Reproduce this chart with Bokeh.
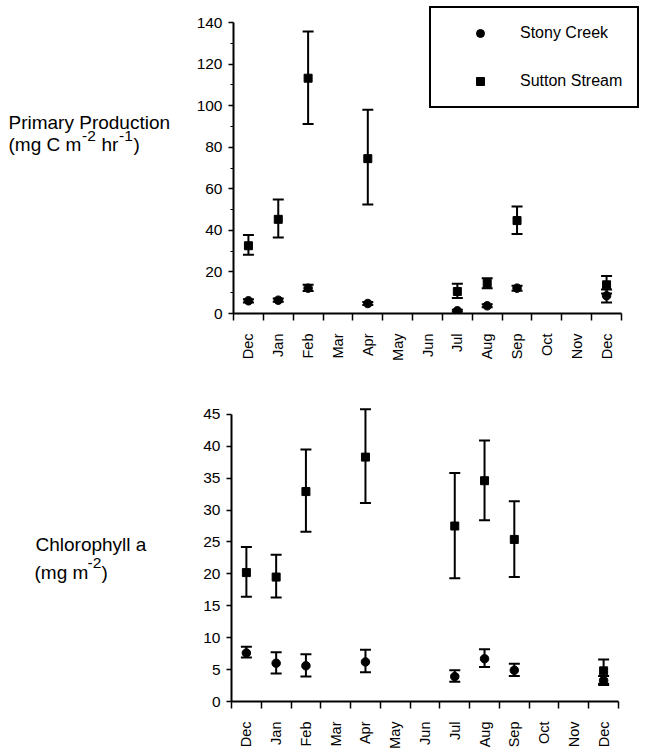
import math
from bokeh.plotting import figure
from bokeh.models import (ColumnDataSource, Whisker, TeeHead, FixedTicker, Label,
                          Legend, LegendItem, Range1d)
from bokeh.layouts import column, row
from bokeh.embed import file_html
from bokeh.resources import INLINE

# ---------------- data ----------------
months = ["Dec", "Jan", "Feb", "Mar", "Apr", "May", "Jun",
          "Jul", "Aug", "Sep", "Oct", "Nov", "Dec"]
sample_slots = [0, 1, 2, 4, 7, 8, 9, 12]   # index into months of each sampling

pp_stony = [6.1, 6.4, 12.2, 4.8, 1.3, 3.7, 12.2, 8.5]
pp_stony_lo = [5.3, 5.6, 10.8, 4.1, 0.8, 3.0, 11.0, 5.3]
pp_stony_hi = [6.9, 7.2, 13.8, 5.5, 1.8, 4.4, 13.3, 11.5]
pp_sutton = [32.6, 45.3, 113.2, 74.5, 10.6, 14.5, 44.7, 13.8]
pp_sutton_lo = [28.3, 36.6, 91.2, 52.4, 7.4, 12.2, 38.2, 9.6]
pp_sutton_hi = [37.8, 54.8, 135.7, 98.0, 14.3, 17.0, 51.5, 18.0]

chl_stony = [7.6, 6.0, 5.6, 6.2, 3.9, 6.7, 4.9, 3.3]
chl_stony_lo = [6.9, 4.4, 3.9, 4.6, 3.1, 5.4, 4.0, 2.6]
chl_stony_hi = [8.6, 7.7, 7.4, 8.1, 4.9, 8.2, 5.9, 4.0]
chl_sutton = [20.2, 19.5, 32.9, 38.3, 27.5, 34.6, 25.4, 4.8]
chl_sutton_lo = [16.4, 16.3, 26.6, 31.1, 19.3, 28.4, 19.5, 2.8]
chl_sutton_hi = [24.2, 23.0, 39.5, 45.8, 35.8, 40.9, 31.4, 6.6]

pp_ticks = [0, 20, 40, 60, 80, 100, 120, 140]
pp_minor = [10, 30, 50, 70, 90, 110, 130]
chl_ticks = [0, 5, 10, 15, 20, 25, 30, 35, 40, 45]

FONT = "Liberation Sans"
LEFT_W = 180
x_centers = [i + 0.5 for i in range(len(months))]
x_bounds = [i for i in range(len(months) + 1)]
x_samples = [s + 0.5 for s in sample_slots]
n_months = len(months)


def make_panel(height, borders, x_end, y_max, y_end, yticks, yminor,
               stony, slo, shi, sutton, tlo, thi, legend=False):
    bl, br, bt, bb = borders
    p = figure(width=650 - LEFT_W, height=height, output_backend="svg",
               toolbar_location=None,
               x_range=Range1d(0, x_end), y_range=Range1d(0, y_end),
               min_border_left=bl, min_border_right=br, min_border_top=bt,
               min_border_bottom=bb)
    p.outline_line_color = None
    p.grid.visible = False
    p.background_fill_color = "white"
    p.border_fill_color = "white"

    xa = p.xaxis[0]
    xa.bounds = (0, n_months)
    xa.ticker = FixedTicker(ticks=x_centers, minor_ticks=x_bounds)
    xa.major_label_overrides = {c: m for c, m in zip(x_centers, months)}
    xa.major_tick_out = 0
    xa.major_tick_in = 0
    xa.major_tick_line_color = None
    xa.minor_tick_out = 7
    xa.minor_tick_in = 0
    xa.minor_tick_line_width = 1.5
    xa.minor_tick_line_color = "black"
    xa.major_label_orientation = math.pi / 2
    xa.major_label_standoff = 13
    xa.major_label_text_font = FONT
    xa.major_label_text_font_size = "14.5px"
    xa.major_label_text_color = "black"
    xa.axis_line_width = 2
    xa.axis_line_color = "black"

    ya = p.yaxis[0]
    ya.bounds = (0, y_max)
    ya.ticker = FixedTicker(ticks=yticks, minor_ticks=yminor)
    ya.major_tick_out = 5
    ya.major_tick_in = 0
    ya.major_tick_line_width = 1.5
    ya.major_tick_line_color = "black"
    ya.minor_tick_out = 3
    ya.minor_tick_in = 0
    ya.minor_tick_line_color = "black" if yminor else None
    ya.major_label_standoff = 6
    ya.major_label_text_font = FONT
    ya.major_label_text_font_size = "15.5px"
    ya.major_label_text_color = "black"
    ya.axis_line_width = 2
    ya.axis_line_color = "black"

    src_st = ColumnDataSource(dict(x=x_samples, y=stony, lo=slo, hi=shi))
    src_su = ColumnDataSource(dict(x=x_samples, y=sutton, lo=tlo, hi=thi))
    for src in (src_su, src_st):
        w = Whisker(source=src, base="x", lower="lo", upper="hi",
                    line_width=2, line_color="black",
                    upper_head=TeeHead(size=11, line_width=2, line_color="black"),
                    lower_head=TeeHead(size=11, line_width=2, line_color="black"))
        p.add_layout(w)
    r_su = p.scatter("x", "y", source=src_su, marker="square", size=8,
                     fill_color="black", line_color="black")
    r_st = p.scatter("x", "y", source=src_st, marker="circle", size=8.5,
                     fill_color="black", line_color="black")

    if legend:
        lg = Legend(items=[LegendItem(label="Stony Creek", renderers=[r_st]),
                           LegendItem(label="Sutton Stream", renderers=[r_su])],
                    location=(196, 205), margin=0, padding=15, spacing=28,
                    glyph_width=68, glyph_height=20, label_height=20,
                    label_standoff=6, border_line_color="black",
                    border_line_alpha=1.0, border_line_width=2,
                    background_fill_color="white", background_fill_alpha=1.0,
                    label_text_font=FONT, label_text_font_size="16px",
                    label_text_color="black")
        p.add_layout(lg)
    return p


def make_label_fig(height, bt, bb):
    # the row aligns this figure's frame with the chart's frame, so map the
    # frame's data space onto its pixel rows (top = bt, bottom = height - bb)
    f = figure(width=LEFT_W, height=height, output_backend="svg",
               toolbar_location=None, x_range=Range1d(0, LEFT_W),
               y_range=Range1d(height - bb, bt), x_axis_location=None,
               y_axis_location=None, min_border_left=0, min_border_right=0,
               min_border_top=bt, min_border_bottom=bb)
    f.outline_line_color = None
    f.grid.visible = False
    f.border_fill_color = "white"
    f.background_fill_color = "white"
    return f


def add_text(f, cx, cy, text, size):
    f.add_layout(Label(x=cx, y=cy, text=text, text_font=FONT,
                       text_font_size=size, text_color="black",
                       text_baseline="alphabetic", text_align="left"))


# ---- top panel: primary production ----
# frame: left 233, right 644 (axis to 621), top 6 (axis to 22), bottom 313
top_frame_w = 650 - LEFT_W - 53 - 6
top_frame_h = 370 - 6 - 57
top = make_panel(370, (53, 6, 6, 57), n_months * top_frame_w / 388.0, 140,
                 140 * top_frame_h / 291.0, pp_ticks, pp_minor,
                 pp_stony, pp_stony_lo, pp_stony_hi,
                 pp_sutton, pp_sutton_lo, pp_sutton_hi, legend=True)
lab_top = make_label_fig(370, 6, 57)
add_text(lab_top, 8, 122, "Primary Production", "19px")
add_text(lab_top, 8, 144, "(mg C m", "19px")
add_text(lab_top, 81.5, 135, "-2", "15.5px")
add_text(lab_top, 101, 144, "hr", "19px")
add_text(lab_top, 118.5, 135, "-1", "15.5px")
add_text(lab_top, 133, 144, ")", "19px")

# ---- bottom panel: chlorophyll a ----
# frame: left 231, right 618, top 404 (axis to 414), bottom 705
bot_frame_h = 381 - 34 - 46
bottom = make_panel(381, (51, 32, 34, 46), n_months, 45,
                    45 * bot_frame_h / 291.0, chl_ticks, [],
                    chl_stony, chl_stony_lo, chl_stony_hi,
                    chl_sutton, chl_sutton_lo, chl_sutton_hi)
lab_bot = make_label_fig(381, 34, 46)
add_text(lab_bot, 35, 546 - 370, "Chlorophyll a", "19px")
add_text(lab_bot, 34, 574 - 370, "(mg m", "19px")
add_text(lab_bot, 87, 565 - 370, "-2", "15.5px")
add_text(lab_bot, 101, 574 - 370, ")", "19px")

layout = column(row(lab_top, top, spacing=0), row(lab_bot, bottom, spacing=0),
                spacing=0)
open("out.html", "w").write(file_html(layout, INLINE))
